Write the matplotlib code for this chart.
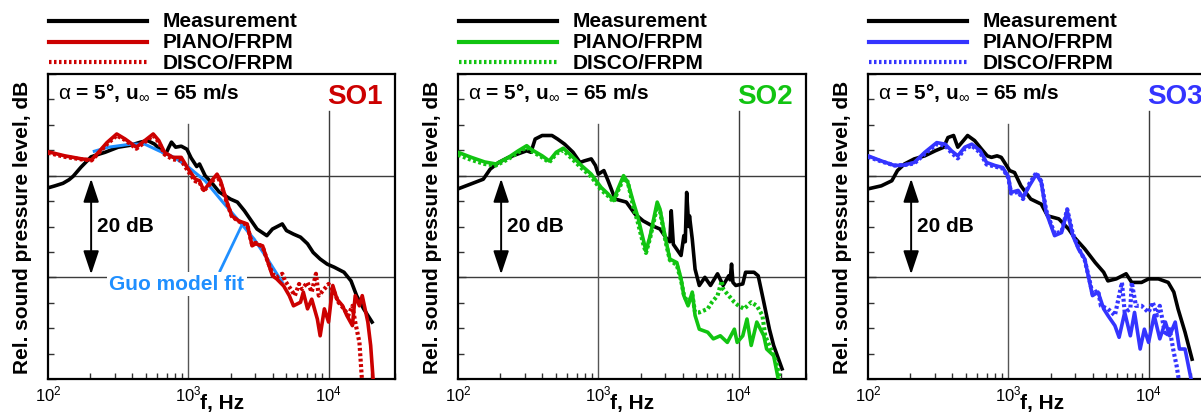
import numpy as np
import matplotlib
matplotlib.use("Agg")
import matplotlib.pyplot as plt
from matplotlib.lines import Line2D
from matplotlib.ticker import MultipleLocator, LogLocator, NullFormatter

plt.rcParams['font.family'] = ['Liberation Sans', 'DejaVu Sans']
plt.rcParams['mathtext.fontset'] = 'custom'
plt.rcParams['mathtext.rm'] = 'Liberation Sans'
plt.rcParams['mathtext.it'] = 'Liberation Sans'
plt.rcParams['mathtext.bf'] = 'Liberation Sans:bold'

# ---------------- data (log10 of frequency in Hz, relative SPL in dB) ----------------
# Panel SO1
so1_meas_logf = [2.00, 2.05, 2.107, 2.15, 2.18, 2.236, 2.307, 2.36, 2.407, 2.5, 2.59, 2.66, 2.71, 2.76,
                 2.81, 2.84, 2.86, 2.88, 2.91, 2.95, 2.99, 3.02, 3.06, 3.08, 3.12, 3.17, 3.22, 3.30, 3.35,
                 3.40, 3.49, 3.56, 3.60, 3.67, 3.70, 3.75, 3.80, 3.85, 3.89, 3.94, 3.99, 4.04, 4.11, 4.16,
                 4.20, 4.25, 4.31]
so1_meas_db = [37.6, 38.0, 38.5, 39.2, 39.9, 41.7, 43.7, 44.2, 44.6, 45.6, 46.0, 46.6, 46.9, 46.2,
               44.8, 44.3, 45.5, 46.6, 45.6, 45.8, 45.2, 43.5, 41.8, 42.3, 40.0, 38.5, 36.8, 35.4, 34.8,
               33.1, 29.5, 28.2, 29.5, 30.5, 29.2, 28.5, 27.9, 26.6, 24.9, 23.6, 22.6, 22.0, 21.0, 19.3,
               16.4, 13.8, 11.2]
so1_piano_logf = [2.00, 2.12, 2.24, 2.31, 2.36, 2.42, 2.49, 2.55, 2.63, 2.69, 2.75, 2.79, 2.83, 2.89,
                  2.95, 3.00, 3.05, 3.08, 3.11, 3.157, 3.205, 3.23, 3.276, 3.31, 3.36, 3.42, 3.455, 3.48,
                  3.53, 3.56, 3.60, 3.63, 3.68, 3.72, 3.75, 3.80, 3.82, 3.85, 3.88, 3.92, 3.94, 3.97,
                  4.00, 4.03, 4.06, 4.10, 4.13, 4.17, 4.19, 4.22, 4.24, 4.28, 4.30, 4.32]
so1_piano_db = [44.7, 43.9, 43.3, 43.1, 44.6, 46.5, 48.2, 47.2, 45.6, 46.9, 48.2, 46.9, 44.6, 43.6,
                43.6, 41.3, 39.3, 39.0, 37.1, 38.7, 40.3, 39.0, 34.8, 32.1, 31.1, 30.5, 26.2, 26.6,
                26.2, 23.6, 20.3, 19.7, 18.3, 16.4, 14.4, 15.1, 17.1, 13.8, 15.7, 11.8, 8.5, 13.8,
                11.2, 18.4, 15.7, 14.4, 12.5, 10.5, 16.4, 14.4, 16.4, 11.2, 6.6, -1.0]
so1_disco_logf = [2.00, 2.12, 2.24, 2.31, 2.36, 2.42, 2.49, 2.55, 2.63, 2.69, 2.75, 2.79, 2.83, 2.89,
                  2.95, 3.00, 3.05, 3.08, 3.11, 3.157, 3.205, 3.23, 3.276, 3.31, 3.36, 3.42, 3.455, 3.48,
                  3.53, 3.56, 3.60, 3.63, 3.67, 3.69, 3.73, 3.76, 3.79, 3.81, 3.85, 3.88, 3.91, 3.93,
                  3.97, 4.00, 4.04, 4.07, 4.11, 4.14, 4.17, 4.19, 4.22, 4.24]
so1_disco_db = [44.5, 43.7, 43.2, 43.0, 44.4, 46.2, 47.9, 47.0, 45.3, 46.6, 47.9, 46.6, 44.2, 43.2,
                43.0, 40.8, 38.9, 38.7, 37.0, 38.4, 40.0, 38.6, 34.6, 32.0, 31.0, 30.3, 26.4, 26.8,
                26.0, 23.6, 20.7, 20.0, 20.7, 19.3, 17.7, 16.4, 18.7, 17.7, 19.0, 17.1, 20.7, 16.4,
                17.7, 18.7, 17.1, 15.1, 13.8, 12.5, 14.4, 11.2, 7.2, -1.0]
guo_logf = [2.33, 2.43, 2.59, 2.69, 2.79, 2.90, 3.00, 3.12, 3.24, 3.37, 3.47, 3.56, 3.67]
guo_db = [44.8, 45.6, 46.2, 46.2, 44.9, 43.6, 41.7, 39.0, 35.0, 30.8, 27.5, 23.8, 19.0]

# Panel SO2
so2_meas_logf = [2.00, 2.095, 2.18, 2.23, 2.29, 2.36, 2.43, 2.49, 2.52, 2.55, 2.60, 2.67, 2.71, 2.76,
                 2.82, 2.87, 2.90, 2.95, 2.98, 3.00, 3.04, 3.07, 3.12, 3.20, 3.26, 3.32, 3.38, 3.44,
                 3.49, 3.51, 3.52, 3.535, 3.59, 3.61, 3.62, 3.63, 3.645, 3.65, 3.67, 3.69, 3.72, 3.76,
                 3.80, 3.85, 3.89, 3.93, 3.94, 3.95, 3.96, 3.98, 4.03, 4.05, 4.11, 4.14, 4.18, 4.22,
                 4.25, 4.31]
so2_meas_db = [37.4, 38.4, 39.3, 41.3, 42.6, 43.6, 44.3, 44.9, 44.6, 47.2, 47.9, 47.9, 47.2, 46.2,
               44.6, 42.6, 42.9, 43.3, 42.0, 40.3, 41.0, 39.0, 35.4, 34.8, 32.5, 31.1, 30.2, 29.5,
               27.5, 27.0, 33.1, 26.5, 24.3, 28.2, 27.0, 36.7, 30.0, 32.1, 27.5, 21.6, 18.4, 20.0,
               18.4, 20.7, 18.4, 20.3, 19.5, 22.6, 19.0, 18.4, 18.7, 21.0, 21.0, 20.3, 15.1, 9.8,
               6.6, 2.0]
so2_piano_logf = [2.00, 2.095, 2.19, 2.27, 2.36, 2.43, 2.49, 2.52, 2.60, 2.65, 2.70, 2.75, 2.81, 2.88,
                  2.95, 3.02, 3.07, 3.11, 3.14, 3.18, 3.21, 3.25, 3.28, 3.32, 3.34, 3.37, 3.42, 3.44,
                  3.48, 3.51, 3.56, 3.59, 3.61, 3.64, 3.67, 3.69, 3.72, 3.78, 3.82, 3.87, 3.92, 3.97,
                  3.99, 4.03, 4.06, 4.09, 4.13, 4.18, 4.20, 4.25, 4.29]
so2_piano_db = [44.6, 43.6, 42.7, 42.3, 43.6, 44.9, 45.9, 45.2, 43.9, 42.9, 44.6, 45.4, 43.9, 42.0,
                40.3, 37.7, 36.4, 35.1, 37.4, 40.0, 38.7, 34.8, 32.1, 27.5, 25.2, 28.2, 34.8, 33.4,
                27.5, 23.6, 22.9, 19.7, 16.4, 14.4, 17.1, 12.5, 9.8, 9.2, 7.9, 8.5, 7.2, 9.8,
                7.2, 8.5, 11.8, 6.6, 11.2, 8.5, 5.9, 4.6, -1.0]
so2_disco_logf = [2.00, 2.095, 2.19, 2.27, 2.36, 2.43, 2.49, 2.52, 2.60, 2.65, 2.70, 2.75, 2.81, 2.88,
                  2.95, 3.02, 3.07, 3.11, 3.14, 3.18, 3.21, 3.25, 3.28, 3.32, 3.34, 3.37, 3.42, 3.44,
                  3.48, 3.51, 3.56, 3.59, 3.61, 3.64, 3.67, 3.69, 3.72, 3.78, 3.81, 3.85, 3.88, 3.89,
                  3.93, 3.97, 4.00, 4.04, 4.09, 4.13, 4.17, 4.19, 4.23, 4.27, 4.30]
so2_disco_db = [44.1, 43.1, 42.3, 42.0, 43.3, 44.6, 45.6, 44.9, 43.6, 42.6, 44.3, 45.0, 43.4, 41.5,
                39.8, 37.2, 36.0, 34.8, 37.0, 39.4, 38.8, 33.8, 31.0, 26.6, 24.8, 27.8, 34.0, 33.0,
                27.0, 23.4, 22.4, 19.4, 16.6, 14.8, 16.6, 13.1, 13.1, 13.8, 15.1, 16.4, 19.3, 17.7,
                16.4, 15.1, 14.4, 13.8, 15.1, 14.4, 12.5, 8.5, 5.9, 3.3, -1.0]

# Panel SO3
so3_meas_logf = [2.00, 2.095, 2.17, 2.21, 2.26, 2.33, 2.405, 2.48, 2.54, 2.57, 2.61, 2.64, 2.68, 2.71,
                 2.76, 2.81, 2.85, 2.88, 2.92, 2.95, 2.98, 3.01, 3.045, 3.09, 3.16, 3.235, 3.28, 3.36,
                 3.43, 3.47, 3.545, 3.62, 3.68, 3.71, 3.77, 3.84, 3.88, 3.95, 4.00, 4.07, 4.14, 4.18,
                 4.21, 4.26, 4.31]
so3_meas_db = [37.4, 38.0, 39.0, 41.0, 42.3, 43.3, 43.9, 44.9, 45.6, 47.5, 47.9, 45.6, 46.9, 47.9,
               46.9, 45.2, 43.9, 43.6, 43.9, 43.6, 42.3, 41.0, 40.6, 38.0, 35.4, 34.4, 32.1, 31.5,
               29.5, 27.9, 25.6, 22.9, 21.0, 19.3, 19.7, 20.7, 19.0, 19.0, 19.7, 19.7, 19.0, 17.1,
               13.8, 9.2, 3.9]
so3_piano_logf = [2.00, 2.095, 2.19, 2.26, 2.33, 2.405, 2.49, 2.55, 2.595, 2.64, 2.69, 2.74, 2.80,
                  2.845, 2.905, 2.96, 3.00, 3.02, 3.07, 3.105, 3.15, 3.20, 3.235, 3.27, 3.33, 3.38,
                  3.42, 3.46, 3.50, 3.545, 3.58, 3.60, 3.64, 3.68, 3.71, 3.76, 3.79, 3.83, 3.87, 3.90,
                  3.94, 3.97, 4.00, 4.04, 4.08, 4.12, 4.15, 4.19, 4.22, 4.26, 4.31]
so3_piano_db = [43.9, 42.9, 42.0, 42.1, 42.6, 44.6, 46.5, 46.2, 44.9, 43.9, 45.6, 46.2, 44.9,
                42.6, 42.0, 41.6, 39.8, 36.7, 37.1, 35.7, 38.0, 40.3, 38.7, 32.8, 28.2, 28.8,
                33.1, 28.2, 25.6, 23.6, 19.0, 16.4, 17.1, 13.8, 12.5, 10.5, 8.2, 13.1, 8.5, 13.1,
                5.9, 9.8, 7.2, 12.5, 7.9, 11.2, 8.5, 11.2, 5.9, 5.9, -1.0]
so3_disco_logf = [2.00, 2.095, 2.19, 2.26, 2.33, 2.405, 2.49, 2.55, 2.595, 2.64, 2.69, 2.74, 2.80,
                  2.845, 2.905, 2.96, 3.00, 3.02, 3.07, 3.105, 3.15, 3.20, 3.235, 3.27, 3.33, 3.38,
                  3.42, 3.46, 3.50, 3.545, 3.58, 3.60, 3.64, 3.66, 3.71, 3.76, 3.81, 3.83, 3.87, 3.88,
                  3.91, 3.95, 4.00, 4.03, 4.06, 4.08, 4.12, 4.15, 4.18, 4.20, 4.22]
so3_disco_db = [43.7, 42.8, 42.0, 42.1, 42.4, 44.3, 46.2, 45.9, 44.5, 43.4, 45.3, 45.9, 44.5,
                42.2, 41.8, 41.4, 39.6, 36.5, 36.8, 35.4, 38.4, 40.6, 38.9, 33.2, 28.6, 29.0,
                33.4, 28.6, 25.8, 23.4, 19.3, 16.8, 17.4, 14.4, 13.8, 12.5, 19.0, 13.1, 13.8, 19.0,
                14.4, 14.4, 13.1, 15.1, 12.5, 14.4, 8.5, 9.8, 5.2, 2.6, -1.0]

series_labels = ['Measurement', 'PIANO/FRPM', 'DISCO/FRPM']
panel_names = ['SO1', 'SO2', 'SO3']
panel_colors = ['#cc0000', '#11c411', '#3434ff']
guo_color = '#1f8fff'

panels = [
    (so1_meas_logf, so1_meas_db, so1_piano_logf, so1_piano_db, so1_disco_logf, so1_disco_db),
    (so2_meas_logf, so2_meas_db, so2_piano_logf, so2_piano_db, so2_disco_logf, so2_disco_db),
    (so3_meas_logf, so3_meas_db, so3_piano_logf, so3_piano_db, so3_disco_logf, so3_disco_db),
]

# ---------------- figure ----------------
W, H = 1201, 414
fig = plt.figure(figsize=(W / 100, H / 100), dpi=100)
lefts_px = [48, 458, 868]
ax_w_px, ax_h_px = 347.5, 305
bottom_px = 34

FS = 15
for i, (ml, md, pl, pd, dl, dd) in enumerate(panels):
    col = panel_colors[i]
    ax = fig.add_axes([lefts_px[i] / W, bottom_px / H, ax_w_px / W, ax_h_px / H])
    ax.set_xscale('log')
    ax.set_xlim(100, 30000)
    ax.set_ylim(0, 60)

    # grid
    for yv in (20, 40):
        ax.axhline(yv, color='#3c3c3c', lw=1.0, zorder=1)
    ax.axvline(1e3, ymax=0.836, color='#555555', lw=1.0, zorder=1)
    ax.axvline(1e4, ymax=0.879, color='#3c3c3c', lw=1.0, zorder=1)

    ax.plot(10 ** np.array(ml), md, color='black', lw=2.6, zorder=3, solid_joinstyle='round')
    if i == 0:
        ax.plot(10 ** np.array(guo_logf), guo_db, color=guo_color, lw=2.2, zorder=3)
    ax.plot(10 ** np.array(pl), pd, color=col, lw=2.6, zorder=4, solid_joinstyle='round')
    ax.plot(10 ** np.array(dl), dd, color=col, lw=3.0, ls=(0, (0.7, 0.6)), zorder=5)

    # ticks
    ax.set_yticks([0, 20, 40, 60])
    ax.yaxis.set_minor_locator(MultipleLocator(5))
    ax.set_yticklabels([])
    ax.xaxis.set_major_locator(LogLocator(base=10, numticks=10))
    ax.xaxis.set_minor_locator(LogLocator(base=10, subs=np.arange(2, 10), numticks=20))
    ax.xaxis.set_minor_formatter(NullFormatter())
    ax.tick_params(which='both', direction='in', top=False, right=False, width=1.0, color='#333333')
    ax.tick_params(which='major', length=6)
    ax.tick_params(which='minor', length=4)
    ax.tick_params(axis='x', which='major', labelsize=12, pad=3, length=0)
    for sp in ax.spines.values():
        sp.set_linewidth(1.6)
        sp.set_color('black')

    ax.set_ylabel('Rel. sound pressure level, dB', fontsize=FS, fontweight='bold')
    ax.yaxis.set_label_coords(-0.045, 0.5)
    ax.set_xlabel('f, Hz', fontsize=FS, fontweight='bold')
    ax.xaxis.set_label_coords(0.5, -0.045)

    # annotation texts
    ax.text(0.029, 0.921, r'$\alpha$ = 5°, u$_{\infty}$ = 65 m/s', transform=ax.transAxes,
            fontsize=FS, fontweight='bold', va='baseline', ha='left', zorder=6)
    ax.text(0.963, 0.905, panel_names[i], transform=ax.transAxes, fontsize=20,
            fontweight='bold', color=col, va='baseline', ha='right', zorder=6)

    # 20 dB arrow
    ax.annotate('', xy=(203, 20.6), xytext=(203, 39.4),
                arrowprops=dict(arrowstyle='<|-|>,head_length=0.9,head_width=0.3',
                                color='black', lw=1.4, shrinkA=0, shrinkB=0, mutation_scale=16),
                zorder=6)
    ax.text(222, 29.1, '20 dB', fontsize=FS, fontweight='bold', va='baseline', ha='left', zorder=6)

    if i == 0:
        ax.annotate('Guo model fit', xy=(10 ** 3.379, 30.1), xytext=(10 ** 2.436, 17.7),
                    fontsize=FS, fontweight='bold', color=guo_color, va='baseline', ha='left',
                    bbox=dict(boxstyle='square,pad=0.12', fc='white', ec='none'),
                    arrowprops=dict(arrowstyle='-', color=guo_color, lw=2.0, shrinkA=0, shrinkB=0,
                                    relpos=(0.81, 1.0)), zorder=6)

    # legend above the axes
    rows_line = [1.173, 1.105, 1.039]
    rows_text = [1.1564, 1.0885, 1.0197]
    styles = [dict(color='black', lw=3.0),
              dict(color=col, lw=3.0),
              dict(color=col, lw=3.0, ls=(0, (0.6, 0.6)))]
    for r in range(3):
        ax.add_line(Line2D([0.003, 0.285], [rows_line[r], rows_line[r]], transform=ax.transAxes,
                           clip_on=False, **styles[r]))
        ax.text(0.331, rows_text[r], series_labels[r], transform=ax.transAxes, fontsize=FS,
                fontweight='bold', va='baseline', ha='left', clip_on=False)

fig.savefig('out.png', dpi=100)
